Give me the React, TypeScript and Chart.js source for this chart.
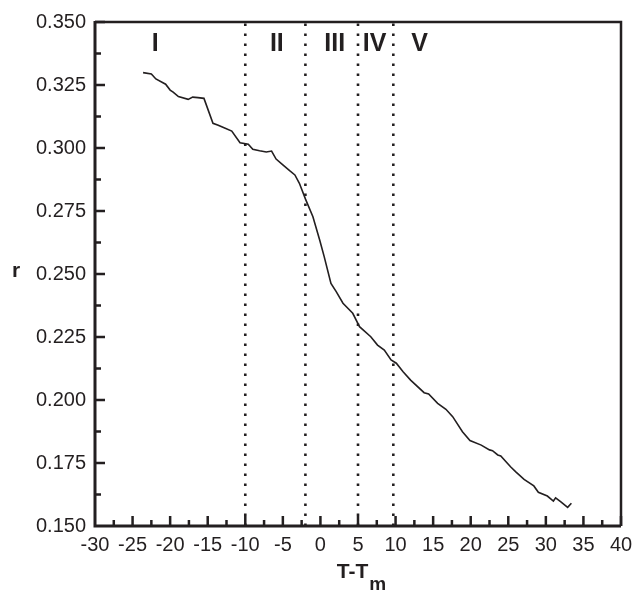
import React, { useEffect, useRef } from "react";
import { Chart, registerables } from "chart.js";

Chart.register(...registerables);

// Curve: T - Tm (x) vs r (y)
const curveX = [
  -23.6, -22.5, -21.9, -20.6, -20.0, -19.6, -18.9, -17.6, -17.0, -16.3, -15.5,
  -14.3, -13.6, -12.9, -11.8, -10.7, -9.6, -9.0, -8.1, -7.2, -6.5, -5.9, -5.0,
  -4.1, -3.4, -2.8, -2.0, -1.0, -0.1, 0.5, 1.4, 2.1, 3.0, 4.3, 5.2, 6.7, 7.6,
  8.5, 9.4, 10.1, 11.0, 12.0, 13.8, 14.4, 15.6, 16.7, 17.6, 18.9, 19.9, 21.4,
  22.5, 22.9, 23.6, 24.0, 25.3, 26.0, 27.1, 28.4, 29.0, 30.2, 31.0, 31.3, 32.0,
  32.9, 33.4,
];
const curveY = [
  0.3299, 0.3294, 0.3274, 0.3253, 0.3230, 0.3222, 0.3204, 0.3193, 0.3202,
  0.3200, 0.3197, 0.3098, 0.3090, 0.3081, 0.3067, 0.3021, 0.3015, 0.2995,
  0.2989, 0.2984, 0.2988, 0.2956, 0.2933, 0.2910, 0.2893, 0.2860, 0.2798,
  0.2727, 0.2635, 0.2569, 0.2463, 0.2430, 0.2384, 0.2344, 0.2291, 0.2251,
  0.2218, 0.2198, 0.2159, 0.2146, 0.2112, 0.2079, 0.2029, 0.2024, 0.1987,
  0.1963, 0.1934, 0.1874, 0.1839, 0.1821, 0.1802, 0.1799, 0.1782, 0.1778,
  0.1735, 0.1715, 0.1685, 0.1659, 0.1634, 0.1619, 0.1599, 0.1612, 0.1596,
  0.1574, 0.1590,
];

// Region boundaries (dotted lines)
const boundaries = [-10, -2, 5, 9.7];

// Region labels
const regionLabels = ["I", "II", "III", "IV", "V"];
const regionLabelX = [-22, -5.8, 1.9, 7.2, 13.2];
const regionLabelY = 0.3413;

// Axes
const xMin = -30;
const xMax = 40;
const xStep = 5;
const yMin = 0.15;
const yMax = 0.35;
const yStep = 0.025;
const yTitle = "r";
const xTitleMain = "T-T";
const xTitleSub = "m";

const INK = "#231f20";
const FONT = "'Liberation Sans', Arial, sans-serif";

const decorPlugin = {
  id: "decor",
  afterDraw(chart: any) {
    const ctx = chart.ctx;
    const area = chart.chartArea;
    const xs = chart.scales.x;
    const ys = chart.scales.y;
    ctx.save();
    ctx.strokeStyle = INK;
    ctx.lineWidth = 2.5;
    ctx.beginPath();
    ctx.moveTo(area.left, area.top);
    ctx.lineTo(area.right, area.top);
    ctx.lineTo(area.right, area.bottom);
    ctx.stroke();
    ctx.lineWidth = 3;
    ctx.beginPath();
    ctx.moveTo(area.left, area.top - 1);
    ctx.lineTo(area.left, area.bottom);
    ctx.lineTo(area.right, area.bottom);
    ctx.stroke();
    ctx.lineWidth = 2.5;
    ctx.beginPath();
    for (let v = xMin; v <= xMax + 1e-9; v += xStep / 2) {
      if (v === xMin) continue;
      const px = xs.getPixelForValue(v);
      const major = Math.abs(v / xStep - Math.round(v / xStep)) < 1e-6;
      const len = major ? 10 : 6;
      ctx.moveTo(px, area.bottom);
      ctx.lineTo(px, area.bottom - len);
    }
    const n = Math.round((yMax - yMin) / (yStep / 2));
    for (let i = 1; i <= n; i++) {
      const v = yMin + (i * yStep) / 2;
      const py = ys.getPixelForValue(v);
      const len = i % 2 === 0 ? 10 : 6;
      ctx.moveTo(area.left, py);
      ctx.lineTo(area.left + len, py);
    }
    ctx.stroke();

    ctx.fillStyle = INK;
    ctx.font = `bold 25px ${FONT}`;
    ctx.textAlign = "center";
    ctx.textBaseline = "middle";
    regionLabels.forEach((t, i) => {
      ctx.fillText(t, xs.getPixelForValue(regionLabelX[i]), ys.getPixelForValue(regionLabelY));
    });

    ctx.font = `bold 21px ${FONT}`;
    ctx.textAlign = "center";
    ctx.textBaseline = "alphabetic";
    ctx.fillText(yTitle, area.left - 79, (area.top + area.bottom) / 2 + 3);

    const mainFont = `bold 21px ${FONT}`;
    const subFont = `bold 19px ${FONT}`;
    ctx.font = mainFont;
    const wMain = ctx.measureText(xTitleMain).width;
    ctx.font = subFont;
    const wSub = ctx.measureText(xTitleSub).width;
    const cx = (area.left + area.right) / 2 + 3;
    const startX = cx - (wMain + wSub) / 2;
    const base = area.bottom + 52;
    ctx.textAlign = "left";
    ctx.font = mainFont;
    ctx.fillText(xTitleMain, startX, base);
    ctx.font = subFont;
    ctx.fillText(xTitleSub, startX + wMain + 1, base + 12);
    ctx.restore();
  },
};

export default function App() {
  const ref = useRef<HTMLCanvasElement>(null);
  useEffect(() => {
    if (!ref.current) return;
    const datasets: any[] = [
      {
        data: curveX.map((x, i) => ({ x, y: curveY[i] })),
        borderColor: INK,
        borderWidth: 1.6,
        pointRadius: 0,
        tension: 0,
        fill: false,
      },
      ...boundaries.map((b) => ({
        data: [
          { x: b, y: yMin },
          { x: b, y: yMax },
        ],
        borderColor: INK,
        borderWidth: 2.6,
        borderDash: [2.6, 7.4],
        borderCapStyle: "butt",
        pointRadius: 0,
        fill: false,
      })),
    ];
    const chart = new Chart(ref.current, {
      type: "line",
      data: { datasets },
      plugins: [decorPlugin],
      options: {
        animation: false,
        responsive: false,
        maintainAspectRatio: false,
        layout: { padding: { top: 22, right: 13, left: 0, bottom: 0 } },
        plugins: { legend: { display: false }, tooltip: { enabled: false } },
        scales: {
          x: {
            type: "linear",
            min: xMin,
            max: xMax,
            grid: { display: false, drawTicks: false },
            border: { display: false },
            ticks: {
              stepSize: xStep,
              font: { size: 20, family: FONT },
              color: INK,
              padding: 7,
              maxRotation: 0,
              autoSkip: false,
            },
            afterFit: (s: any) => {
              s.height = 66;
              s.paddingLeft = 0;
              s.paddingRight = 0;
            },
          },
          y: {
            type: "linear",
            min: yMin,
            max: yMax,
            grid: { display: false, drawTicks: false },
            border: { display: false },
            ticks: {
              stepSize: yStep,
              font: { size: 20, family: FONT },
              color: INK,
              padding: 9,
              callback: (v: any) => Number(v).toFixed(3),
              autoSkip: false,
            },
            afterFit: (s: any) => {
              s.width = 95;
              s.paddingTop = 0;
              s.paddingBottom = 0;
            },
          },
        },
      } as any,
    });
    return () => chart.destroy();
  }, []);
  return (
    <div style={{ position: "absolute", left: 0, top: 0, width: 634, height: 592, background: "#fff" }}>
      <canvas ref={ref} width={634} height={592} style={{ display: "block" }} />
    </div>
  );
}
